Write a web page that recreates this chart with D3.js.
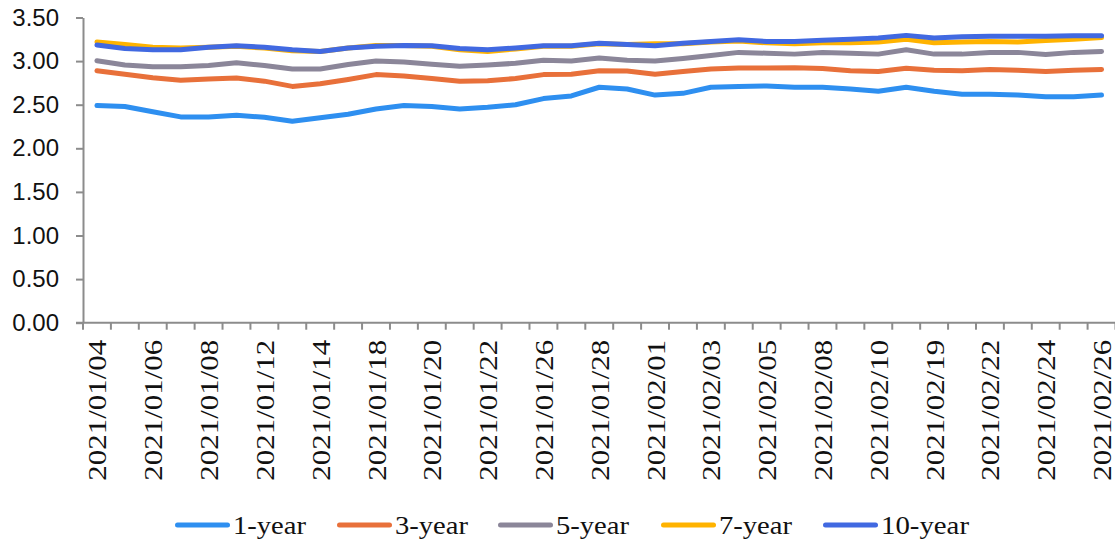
<!DOCTYPE html>
<html><head><meta charset="utf-8">
<script src="https://cdn.jsdelivr.net/npm/d3@7"></script>
<style>body{margin:0;background:#fff}</style>
</head><body><svg id="c" width="1115" height="539"></svg>
<script>
const dates = ["2021/01/04","2021/01/05","2021/01/06","2021/01/07","2021/01/08","2021/01/11","2021/01/12","2021/01/13","2021/01/14","2021/01/15","2021/01/18","2021/01/19","2021/01/20","2021/01/21","2021/01/22","2021/01/25","2021/01/26","2021/01/27","2021/01/28","2021/01/29","2021/02/01","2021/02/02","2021/02/03","2021/02/04","2021/02/05","2021/02/07","2021/02/08","2021/02/09","2021/02/10","2021/02/18","2021/02/19","2021/02/20","2021/02/22","2021/02/23","2021/02/24","2021/02/25","2021/02/26"];
const y1 = [2.49,2.48,2.42,2.36,2.36,2.38,2.355,2.31,2.35,2.39,2.45,2.49,2.48,2.45,2.47,2.50,2.57,2.60,2.70,2.68,2.61,2.63,2.70,2.71,2.715,2.70,2.70,2.68,2.655,2.70,2.655,2.62,2.62,2.61,2.59,2.59,2.61];
const y3 = [2.89,2.85,2.81,2.78,2.795,2.805,2.77,2.71,2.74,2.79,2.845,2.83,2.80,2.77,2.775,2.80,2.845,2.85,2.89,2.886,2.85,2.88,2.91,2.92,2.92,2.925,2.915,2.89,2.88,2.918,2.895,2.89,2.905,2.895,2.88,2.895,2.905];
const y5 = [3.005,2.955,2.935,2.935,2.95,2.98,2.95,2.91,2.91,2.96,3.0,2.99,2.965,2.94,2.955,2.975,3.01,3.0,3.035,3.01,3.0,3.03,3.065,3.10,3.09,3.08,3.10,3.09,3.08,3.13,3.08,3.08,3.10,3.10,3.075,3.10,3.11];
const y7 = [3.22,3.19,3.16,3.15,3.16,3.17,3.15,3.12,3.11,3.15,3.18,3.18,3.17,3.13,3.11,3.14,3.17,3.17,3.20,3.19,3.20,3.20,3.22,3.23,3.21,3.20,3.21,3.21,3.22,3.25,3.21,3.22,3.225,3.22,3.235,3.25,3.27];
const y10 = [3.185,3.145,3.13,3.13,3.16,3.175,3.16,3.13,3.11,3.15,3.17,3.18,3.175,3.145,3.13,3.15,3.175,3.175,3.205,3.19,3.175,3.205,3.225,3.245,3.225,3.225,3.24,3.25,3.265,3.295,3.265,3.28,3.285,3.285,3.285,3.29,3.29];
const seriesNames = ["1-year","3-year","5-year","7-year","10-year"];
const seriesColors = ["#2E8FF0","#E8703A","#8B8699","#FFB300","#4169E1"];
const yTicks = [0,0.5,1,1.5,2,2.5,3,3.5];

const svg = d3.select("#c");
const L = 83, R = 1115.5, T = 17.5, B = 322.7;
const x = d3.scaleBand().domain(dates).range([L, R]);
const y = d3.scaleLinear().domain([0, 3.5]).range([B, T]);
const axisCol = "#8c8c8c";

// y axis
const ya = svg.append("g").attr("transform", `translate(${L},0)`)
  .call(d3.axisLeft(y).tickValues(yTicks).tickFormat(d3.format(".2f")).tickSize(7).tickSizeOuter(0));
ya.select(".domain").attr("stroke", axisCol).attr("stroke-width", 2);
ya.selectAll(".tick line").attr("stroke", axisCol).attr("stroke-width", 2);
ya.selectAll(".tick text").attr("x", -24).attr("fill", "#111")
  .style("font-family", "'Liberation Sans', Arial, sans-serif").style("font-size", "24px");

// x axis: ticks at category boundaries
const xa = svg.append("g").attr("transform", `translate(0,${B})`);
xa.append("line").attr("x1", L - 7).attr("x2", R).attr("y1", 0).attr("y2", 0)
  .attr("stroke", axisCol).attr("stroke-width", 2);
const bounds = dates.map(d => x(d)).concat([R]);
xa.selectAll("line.tk").data(bounds).enter().append("line").attr("class", "tk")
  .attr("x1", d => d).attr("x2", d => d).attr("y1", 0).attr("y2", 7)
  .attr("stroke", axisCol).attr("stroke-width", 2);
const labelDates = dates.filter((d, i) => i % 2 === 0);
xa.selectAll("text").data(labelDates).enter().append("text")
  .attr("transform", d => `translate(${x(d) + x.bandwidth() / 2 + 9.5},${17}) rotate(-90)`)
  .attr("text-anchor", "end")
  .attr("textLength", 141).attr("lengthAdjust", "spacingAndGlyphs")
  .style("font-family", "'Liberation Serif', 'Times New Roman', serif").style("font-size", "25px")
  .attr("fill", "#111").text(d => d);

// lines
const allSeries = [y1, y3, y5, y7, y10];
const line = d3.line().x((d, i) => x(dates[i]) + x.bandwidth() / 2).y(d => y(d));
allSeries.forEach((s, k) => {
  svg.append("path").datum(s).attr("d", line).attr("fill", "none")
    .attr("stroke", seriesColors[k]).attr("stroke-width", 5)
    .attr("stroke-linecap", "round").attr("stroke-linejoin", "round");
});

// legend
const legX = [175, 337, 498, 661, 823];
const lg = svg.append("g");
seriesNames.forEach((n, k) => {
  lg.append("line").attr("x1", legX[k] + 2.5).attr("x2", legX[k] + 52.5).attr("y1", 525).attr("y2", 525)
    .attr("stroke", seriesColors[k]).attr("stroke-width", 5).attr("stroke-linecap", "round");
  lg.append("text").attr("x", legX[k] + 58).attr("y", 534)
    .style("font-family", "'Liberation Serif', 'Times New Roman', serif").style("font-size", "26px")
    .attr("textLength", n.length === 6 ? 73 : 88).attr("lengthAdjust", "spacingAndGlyphs")
    .attr("fill", "#111").text(n);
});
</script></body></html>
